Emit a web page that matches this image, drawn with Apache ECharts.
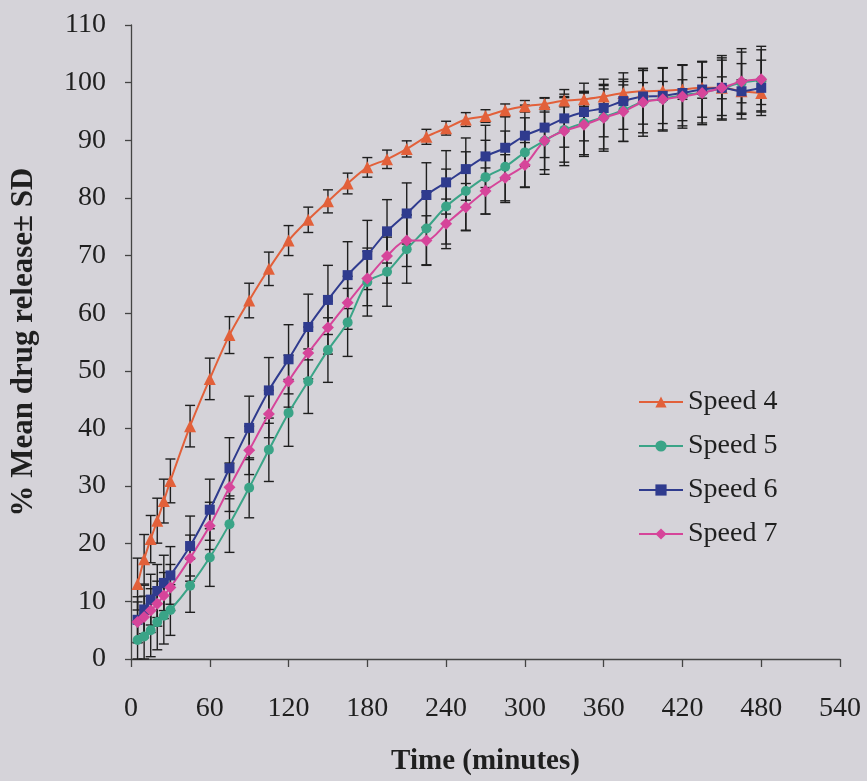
<!DOCTYPE html>
<html>
<head>
<meta charset="utf-8">
<title>Drug release profile</title>
<script src="https://cdn.jsdelivr.net/npm/echarts@6/dist/echarts.min.js"></script>
<style>
  html, body { margin: 0; padding: 0; background: #d5d3d9; }
  #chart { width: 867px; height: 781px; }
</style>
</head>
<body>
<div id="chart"></div>
<script>
// Sampling times (minutes)
const times = [5, 10, 15, 20, 25, 30, 45, 60, 75, 90, 105, 120, 135, 150, 165, 180, 195, 210,
  225, 240, 255, 270, 285, 300, 315, 330, 345, 360, 375, 390, 405, 420, 435, 450, 465, 480];

// Mean % drug released and standard deviations per stirring speed
const speed4Mean = [13.0, 17.3, 20.8, 24.0, 27.4, 30.9, 40.4, 48.6, 56.2, 62.2, 67.7, 72.6, 76.2, 79.4, 82.5, 85.3, 86.7, 88.5,
  90.6, 92.1, 93.6, 94.2, 95.2, 95.9, 96.3, 96.9, 97.1, 97.6, 98.2, 98.5, 98.6, 98.8, 99.1, 99.1, 98.5, 98.2];
const speed4Sd = [4.5, 4.3, 4.1, 3.9, 3.8, 3.8, 3.6, 3.6, 3.2, 3.0, 2.9, 2.6, 2.2, 2.0, 1.8, 1.7, 1.6, 1.4,
  1.3, 1.2, 1.2, 1.1, 1.1, 1.0, 1.0, 1.1, 1.2, 1.3, 1.4, 1.5, 1.6, 1.7, 1.8, 1.9, 2.0, 2.0];

const speed5Mean = [3.3, 3.9, 5.0, 6.4, 7.5, 8.5, 12.7, 17.6, 23.4, 29.7, 36.3, 42.7, 48.2, 53.6, 58.4, 65.4, 67.2, 71.1,
  74.7, 78.5, 81.2, 83.6, 85.4, 87.9, 89.9, 91.8, 93.0, 94.0, 95.2, 96.7, 97.2, 97.8, 98.3, 99.0, 100.0, 100.4];
const speed5Sd = [3.3, 3.9, 4.6, 4.8, 4.9, 4.4, 4.6, 5.0, 4.9, 5.2, 5.5, 5.8, 5.6, 5.6, 5.9, 5.9, 6.0, 5.9,
  6.3, 6.5, 6.8, 6.4, 6.2, 6.0, 5.8, 5.6, 5.5, 5.5, 5.4, 5.4, 5.4, 5.3, 5.3, 5.3, 5.3, 5.3];

const speed6Mean = [6.8, 8.6, 10.3, 11.8, 13.2, 14.5, 19.6, 25.9, 33.1, 40.1, 46.6, 52.0, 57.6, 62.3, 66.6, 70.1, 74.2, 77.3,
  80.5, 82.7, 85.0, 87.2, 88.7, 90.8, 92.2, 93.8, 94.9, 95.6, 96.8, 97.6, 97.7, 98.2, 98.8, 99.1, 98.5, 99.1];
const speed6Sd = [4.0, 4.2, 4.4, 4.6, 4.8, 5.0, 5.2, 5.3, 5.3, 5.5, 5.7, 6.0, 5.7, 6.0, 5.8, 6.0, 5.5, 5.3,
  5.6, 5.5, 5.4, 5.4, 5.4, 5.3, 5.2, 5.0, 5.0, 5.0, 4.9, 4.8, 4.8, 4.8, 4.8, 4.8, 4.8, 4.8];

const speed7Mean = [6.4, 7.3, 8.4, 9.6, 11.0, 12.4, 17.5, 23.1, 29.8, 36.2, 42.5, 48.2, 53.1, 57.5, 61.8, 66.0, 69.9, 72.6,
  72.6, 75.5, 78.4, 81.2, 83.5, 85.7, 89.9, 91.6, 92.7, 93.9, 95.0, 96.6, 97.1, 97.6, 98.2, 99.1, 100.2, 100.6];
const speed7Sd = [3.5, 3.6, 3.8, 3.9, 4.0, 4.0, 4.0, 4.1, 4.2, 4.2, 4.1, 4.5, 4.5, 4.6, 4.6, 4.7, 4.7, 4.5,
  4.3, 4.3, 4.1, 4.0, 4.0, 3.9, 5.0, 6.0, 5.5, 5.8, 5.2, 5.9, 5.5, 5.5, 5.5, 5.6, 5.7, 5.7];

const seriesNames = ['Speed 4', 'Speed 5', 'Speed 6', 'Speed 7'];
const xTicks = { min: 0, max: 540, step: 60 };
const yTicks = { min: 0, max: 110, step: 10 };

const FONT = '"Liberation Serif", "Times New Roman", serif';
const INK = '#1f1f1f';

const specs = [
  { name: seriesNames[0], mean: speed4Mean, sd: speed4Sd, color: '#e2603a', symbol: 'triangle', size: 12 },
  { name: seriesNames[1], mean: speed5Mean, sd: speed5Sd, color: '#3aa487', symbol: 'circle', size: 10 },
  { name: seriesNames[2], mean: speed6Mean, sd: speed6Sd, color: '#2f3b8e', symbol: 'rect', size: 10 },
  { name: seriesNames[3], mean: speed7Mean, sd: speed7Sd, color: '#d6459a', symbol: 'diamond', size: 12 }
];

// Vertical ± SD bar with end caps
function errorBars(spec) {
  return {
    type: 'custom',
    name: spec.name + ' SD',
    silent: true,
    z: 1,
    data: times.map((t, i) => [t, spec.mean[i] - spec.sd[i], spec.mean[i] + spec.sd[i]]),
    encode: { x: 0, y: [1, 2] },
    renderItem: function (params, api) {
      const lo = api.coord([api.value(0), api.value(1)]);
      const hi = api.coord([api.value(0), api.value(2)]);
      const half = 5;
      const style = { stroke: INK, lineWidth: 1.4 };
      return {
        type: 'group',
        children: [
          { type: 'line', shape: { x1: lo[0], y1: lo[1], x2: hi[0], y2: hi[1] }, style: style },
          { type: 'line', shape: { x1: hi[0] - half, y1: hi[1], x2: hi[0] + half, y2: hi[1] }, style: style },
          { type: 'line', shape: { x1: lo[0] - half, y1: lo[1], x2: lo[0] + half, y2: lo[1] }, style: style }
        ]
      };
    }
  };
}

function meanLine(spec) {
  return {
    type: 'line',
    name: spec.name,
    z: 3,
    smooth: 0.3,
    symbol: spec.symbol,
    symbolSize: spec.size,
    showAllSymbol: true,
    data: times.map((t, i) => [t, spec.mean[i]]),
    lineStyle: { color: spec.color, width: 2 },
    itemStyle: { color: spec.color, borderWidth: 0 },
    emphasis: { disabled: true }
  };
}

const chart = echarts.init(document.getElementById('chart'), null, { renderer: 'canvas' });

chart.setOption({
  backgroundColor: '#d5d3d9',
  animation: false,
  textStyle: { fontFamily: FONT, color: INK },
  grid: { left: 128, right: 27, top: 25, bottom: 119, containLabel: false },
  legend: {
    data: seriesNames,
    orient: 'vertical',
    left: 638,
    top: 387,
    padding: 0,
    itemWidth: 44,
    itemHeight: 14,
    itemGap: 14,
    textStyle: { fontFamily: FONT, fontSize: 28, color: INK, lineHeight: 30 }
  },
  xAxis: {
    type: 'value',
    min: xTicks.min,
    max: xTicks.max,
    interval: xTicks.step,
    name: 'Time (minutes)',
    nameLocation: 'middle',
    nameGap: 88,
    nameTextStyle: { fontFamily: FONT, fontSize: 29, fontWeight: 'bold', color: INK },
    axisLine: { lineStyle: { color: '#444', width: 1.3 } },
    axisTick: { length: 8, lineStyle: { color: '#444', width: 1.3 } },
    axisLabel: { fontFamily: FONT, fontSize: 28, color: INK, margin: 36 },
    splitLine: { show: false }
  },
  yAxis: {
    type: 'value',
    min: yTicks.min,
    max: yTicks.max,
    interval: yTicks.step,
    name: '% Mean drug release\u00b1 SD',
    nameLocation: 'middle',
    nameGap: 92,
    nameTextStyle: { fontFamily: FONT, fontSize: 31, fontWeight: 'bold', color: INK },
    axisLine: { show: true, lineStyle: { color: '#444', width: 1.3 } },
    axisTick: { show: true, length: 6, lineStyle: { color: '#444', width: 1.3 } },
    axisLabel: { fontFamily: FONT, fontSize: 28, color: INK, margin: 25 },
    splitLine: { show: false }
  },
  series: specs.map(errorBars).concat(specs.map(meanLine))
});
</script>
</body>
</html>
